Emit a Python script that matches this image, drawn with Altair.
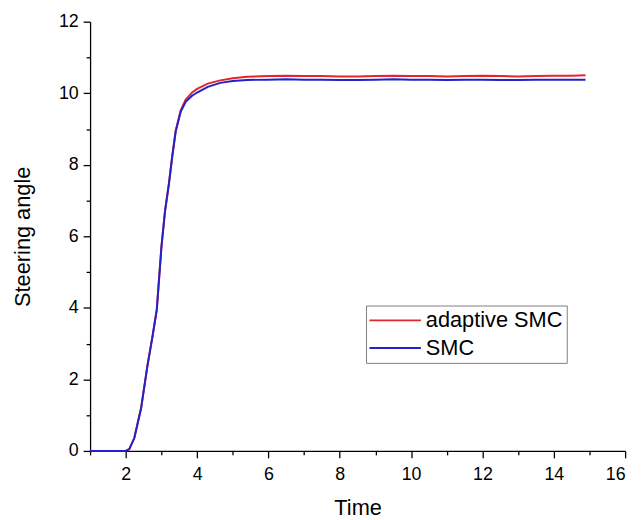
import altair as alt
import pandas as pd

time = [1.0, 2.0, 2.1, 2.24, 2.43, 2.61, 2.75, 2.87, 3.0, 3.1,
        3.21, 3.3, 3.4, 3.54, 3.68, 3.86, 4.0, 4.3, 4.65, 5.0,
        5.4, 6.0, 6.5, 7.0, 7.5, 8.0, 8.5, 9.0, 9.5, 10.0,
        10.5, 11.0, 11.5, 12.0, 12.5, 13.0, 13.5, 14.0, 14.5, 14.89]

smc = [0, 0, 0.05, 0.36, 1.19, 2.39, 3.2, 3.95, 5.7, 6.7,
       7.46, 8.2, 8.93, 9.48, 9.76, 9.93, 10.02, 10.18, 10.29, 10.34,
       10.37, 10.38, 10.39, 10.38, 10.38, 10.37, 10.37, 10.38, 10.39, 10.38,
       10.38, 10.37, 10.38, 10.38, 10.37, 10.37, 10.38, 10.38, 10.38, 10.38]

adaptive_smc = [0, 0, 0.05, 0.36, 1.2, 2.4, 3.2, 3.95, 5.7, 6.7,
                7.48, 8.22, 8.95, 9.52, 9.82, 10.02, 10.12, 10.27, 10.36, 10.42,
                10.46, 10.48, 10.49, 10.48, 10.48, 10.47, 10.47, 10.48, 10.49, 10.48,
                10.48, 10.47, 10.48, 10.49, 10.48, 10.47, 10.48, 10.49, 10.49, 10.50]

series_names = ["adaptive SMC", "SMC"]
series_colors = ["#e3262c", "#2222c8"]
x_ticks = list(range(1, 17))
y_ticks = list(range(0, 13))

rows = []
for i, t in enumerate(time):
    rows.append({"Time": t, "value": adaptive_smc[i], "series": "adaptive SMC", "k": 0})
for i, t in enumerate(time):
    rows.append({"Time": t, "value": smc[i], "series": "SMC", "k": 1})
df = pd.DataFrame(rows)

FONT = "Arial, Liberation Sans, sans-serif"

chart = alt.Chart(df).mark_line(strokeWidth=2).encode(
    x=alt.X("Time:Q",
            scale=alt.Scale(domain=[1, 16], nice=False, zero=False),
            axis=alt.Axis(title="Time", values=x_ticks,
                          labelExpr="datum.value % 2 == 0 ? datum.label : ''",
                          tickSize={"condition": {"test": "datum.value % 2 == 1", "value": 4}, "value": 7},
                          labelPadding=8, titlePadding=14, grid=False)),
    y=alt.Y("value:Q",
            scale=alt.Scale(domain=[0, 12], nice=False),
            axis=alt.Axis(title="Steering angle", values=y_ticks,
                          labelExpr="datum.value % 2 == 0 ? datum.label : ''",
                          tickSize={"condition": {"test": "datum.value % 2 == 1", "value": 4}, "value": 7},
                          labelPadding=5, titlePadding=24, grid=False)),
    color=alt.Color("series:N",
                    scale=alt.Scale(domain=series_names, range=series_colors),
                    legend=alt.Legend(title=None, orient="none", legendX=279, legendY=287,
                                      strokeColor="#7f7f7f", fillColor="white", padding=4,
                                      symbolType="M-1.15,0H4.05", symbolSize=400, symbolStrokeWidth=2,
                                      labelFontSize=22, labelFont=FONT, labelColor="black",
                                      labelOffset=34.5, rowPadding=6)),
    order=alt.Order("k:Q"),
    detail="series:N",
).properties(
    width=541, height=434,
    autosize=alt.AutoSizeParams(type="none"),
    padding={"left": 83, "top": 11, "right": 10, "bottom": 66},
).configure_view(stroke=None).configure_axis(
    domainColor="black", domainWidth=1.3, tickColor="black", tickWidth=1.3,
    labelColor="black", labelFont=FONT, labelFontSize=18,
    titleColor="black", titleFont=FONT, titleFontSize=22, titleFontWeight="normal",
)

chart.save("out.html", embed_options={"renderer": "svg", "actions": False})
